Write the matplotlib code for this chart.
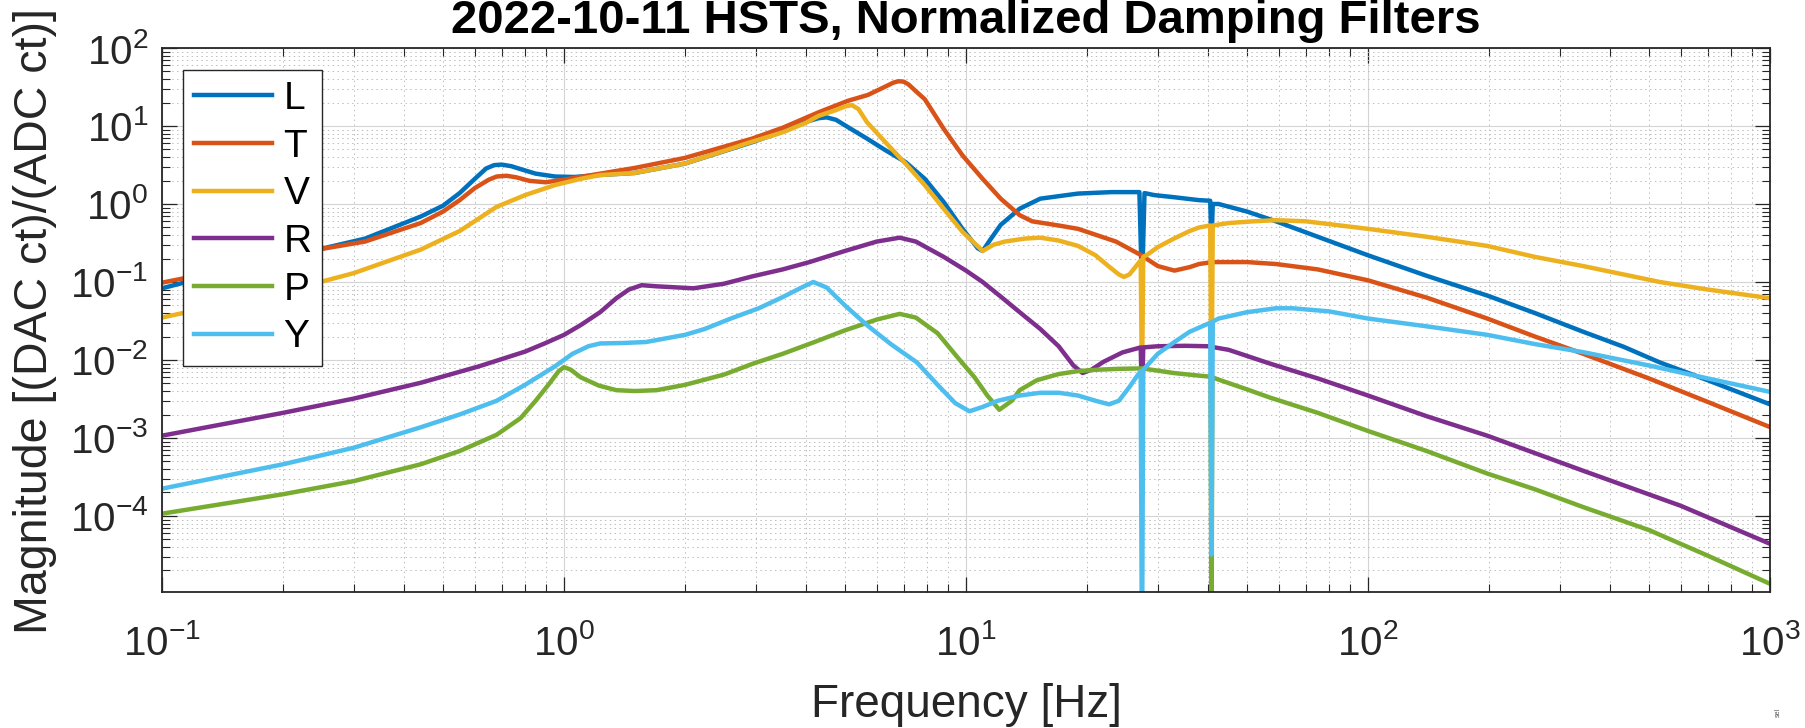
import numpy as np
import matplotlib
matplotlib.use("Agg")
import matplotlib.pyplot as plt
from matplotlib.ticker import LogLocator, NullFormatter

plt.rcParams['font.family'] = ['Liberation Sans', 'DejaVu Sans']
plt.rcParams['mathtext.fontset'] = 'custom'
plt.rcParams['mathtext.rm'] = 'Liberation Sans'
plt.rcParams['mathtext.it'] = 'Liberation Sans:italic'
plt.rcParams['mathtext.bf'] = 'Liberation Sans:bold'
plt.rcParams['axes.unicode_minus'] = False

# ---- damping filter magnitudes (frequency in Hz, magnitude in DAC ct / ADC ct) ----
freq_L = [0.1, 0.148, 0.244, 0.32, 0.44, 0.5, 0.55, 0.6, 0.64, 0.67, 0.7, 0.74, 0.78, 0.85, 0.95, 1.06, 1.22,
          1.5, 2.0, 2.94, 3.5, 4.0, 4.3, 4.5, 4.75, 5.08, 5.67, 6.3, 7.07, 7.9, 8.8, 9.8, 10.7, 11.0,
          11.5, 12.2, 13.6, 15.3, 19.0, 23.0, 27.0, 27.4, 27.8, 29.4, 33.0, 38.0, 40.5, 40.8, 41.1,
          42.5, 50.0, 59.0, 75.0, 100.0, 140.0, 198.0, 260.0, 343.0, 432.0, 532.0, 700.0, 1000.0]
mag_L = [0.083, 0.14, 0.26, 0.36, 0.69, 0.95, 1.38, 2.1, 2.85, 3.15, 3.2, 3.05, 2.8, 2.45, 2.25, 2.22, 2.35,
         2.5, 3.3, 6.2, 8.5, 11.3, 12.6, 12.9, 12.0, 9.7, 6.9, 4.9, 3.45, 2.1, 1.06, 0.48, 0.27, 0.25,
         0.35, 0.54, 0.87, 1.17, 1.36, 1.42, 1.42, 0.08, 1.38, 1.3, 1.22, 1.12, 1.1, 0.3, 1.0,
         1.0, 0.8, 0.6, 0.38, 0.22, 0.12, 0.067, 0.04, 0.023, 0.0148, 0.0093, 0.0055, 0.0027]

freq_T = [0.1, 0.148, 0.244, 0.32, 0.44, 0.5, 0.55, 0.6, 0.65, 0.68, 0.72, 0.76, 0.82, 0.9, 1.0, 1.23,
          1.5, 2.0, 2.94, 3.5, 4.3, 5.08, 5.7, 6.3, 6.6, 6.8, 7.0, 7.2, 7.5, 7.9, 8.8, 9.8, 11.0, 12.2,
          13.6, 14.6, 17.0, 19.0, 23.6, 27.3, 30.0, 33.0, 36.0, 38.0, 41.0, 50.0, 59.0, 75.0,
          100.0, 140.0, 198.0, 260.0, 343.0, 500.0, 700.0, 1000.0]
mag_T = [0.098, 0.147, 0.26, 0.33, 0.57, 0.8, 1.12, 1.6, 2.05, 2.25, 2.3, 2.2, 1.98, 1.9, 2.05, 2.45,
         2.9, 3.9, 6.9, 9.5, 15.0, 21.0, 25.0, 32.0, 36.0, 37.5, 37.0, 34.0, 28.0, 22.0, 9.2, 4.2, 2.1, 1.17,
         0.72, 0.6, 0.53, 0.48, 0.33, 0.22, 0.16, 0.14, 0.155, 0.17, 0.18, 0.18, 0.17, 0.145,
         0.105, 0.063, 0.034, 0.02, 0.012, 0.0058, 0.0029, 0.00138]

freq_V = [0.1, 0.15, 0.244, 0.3, 0.44, 0.55, 0.68, 0.8, 0.95, 1.1, 1.23, 1.5, 2.0, 2.94, 3.5,
          4.0, 4.3, 4.75, 5.0, 5.2, 5.4, 5.67, 6.3, 7.07, 7.9, 8.8, 9.8, 11.0, 11.7, 12.5, 14.0, 15.3,
          17.0, 19.0, 21.0, 22.6, 24.0, 24.7, 25.5, 26.5, 27.2, 27.4, 27.6, 28.1, 30.0, 32.9,
          36.0, 38.0, 40.5, 40.8, 41.1, 45.0, 52.0, 59.0, 70.0, 100.0, 140.0, 198.0, 260.0,
          343.0, 532.0, 700.0, 1000.0]
mag_V = [0.035, 0.055, 0.098, 0.13, 0.26, 0.45, 0.92, 1.3, 1.75, 2.1, 2.35, 2.5, 3.3, 6.3, 8.3,
         11.0, 13.5, 16.0, 17.8, 18.5, 16.5, 11.2, 6.2, 3.3, 1.74, 0.87, 0.44, 0.25, 0.3, 0.33, 0.36, 0.37,
         0.34, 0.29, 0.22, 0.16, 0.125, 0.116, 0.125, 0.16, 0.19, 0.004, 0.21, 0.22, 0.28, 0.36,
         0.45, 0.5, 0.53, 0.002, 0.53, 0.57, 0.6, 0.62, 0.6, 0.48, 0.38, 0.29, 0.21,
         0.16, 0.1, 0.08, 0.062]

freq_R = [0.1, 0.2, 0.3, 0.44, 0.615, 0.8, 0.9, 1.0, 1.1, 1.23, 1.35, 1.45, 1.56, 1.7, 2.1, 2.5,
          2.94, 3.5, 4.08, 5.0, 6.0, 6.84, 7.5, 8.8, 10.0, 11.0, 12.2, 13.6, 15.3, 17.0, 18.5,
          19.5, 20.5, 22.0, 24.5, 27.2, 27.4, 27.6, 30.0, 35.0, 40.0, 45.0, 57.0, 75.0, 100.0,
          140.0, 198.0, 343.0, 600.0, 1000.0]
mag_R = [0.00107, 0.0021, 0.0032, 0.0051, 0.0083, 0.0128, 0.0165, 0.021, 0.028, 0.041, 0.062, 0.08, 0.091, 0.088, 0.083, 0.095,
         0.118, 0.145, 0.18, 0.25, 0.33, 0.37, 0.33, 0.21, 0.14, 0.1, 0.065, 0.041, 0.025, 0.015, 0.0085,
         0.0068, 0.0075, 0.0095, 0.0125, 0.0145, 0.003, 0.0145, 0.015, 0.0152, 0.015, 0.0135, 0.009, 0.0058, 0.0035,
         0.0019, 0.00107, 0.00038, 0.000135, 0.000044]

freq_P = [0.1, 0.2, 0.3, 0.44, 0.55, 0.68, 0.78, 0.85, 0.92, 0.97, 1.0, 1.04, 1.1, 1.22, 1.35,
          1.5, 1.7, 2.0, 2.5, 2.94, 3.5, 4.2, 5.0, 6.0, 6.84, 7.5, 8.5, 9.5, 10.5, 11.3, 12.1,
          13.0, 13.6, 15.0, 17.0, 19.0, 21.2, 24.0, 27.4, 30.0, 32.9, 38.0, 40.6, 40.8, 41.0,
          42.5, 50.0, 57.0, 75.0, 100.0, 140.0, 198.0, 260.0, 343.0, 500.0, 700.0, 1000.0]
mag_P = [0.000107, 0.00019, 0.00028, 0.00046, 0.00068, 0.0011, 0.0018, 0.003, 0.005, 0.0072, 0.0081, 0.0075, 0.006, 0.0047, 0.0041,
         0.004, 0.0041, 0.0048, 0.0065, 0.0089, 0.012, 0.017, 0.024, 0.033, 0.039, 0.035, 0.022, 0.011, 0.006, 0.0035, 0.0023,
         0.003, 0.0041, 0.0055, 0.0066, 0.0072, 0.0075, 0.0077, 0.0078, 0.0073, 0.0068, 0.0063, 0.0061, 1e-6, 0.006,
         0.0056, 0.0042, 0.0033, 0.0021, 0.00123, 0.00068, 0.00035, 0.00022, 0.00013, 0.000066, 0.000031, 0.0000135]

freq_Y = [0.1, 0.2, 0.3, 0.44, 0.55, 0.68, 0.8, 0.95, 1.05, 1.15, 1.23, 1.4, 1.6, 2.0, 2.24,
          2.6, 3.05, 3.5, 3.9, 4.17, 4.5, 5.0, 5.67, 6.5, 7.55, 8.5, 9.4, 10.2, 11.0, 12.0,
          13.6, 15.3, 17.0, 19.0, 21.0, 22.7, 24.0, 25.5, 26.5, 27.2, 27.4, 27.6, 30.0, 33.0,
          36.0, 40.5, 40.8, 41.1, 42.5, 50.0, 59.0, 65.0, 80.0, 100.0, 140.0, 198.0, 260.0,
          343.0, 500.0, 700.0, 1000.0]
mag_Y = [0.000224, 0.00046, 0.00075, 0.00137, 0.002, 0.003, 0.0048, 0.0083, 0.012, 0.015, 0.0163, 0.0165, 0.017, 0.021, 0.025,
         0.034, 0.046, 0.064, 0.085, 0.1, 0.085, 0.05, 0.028, 0.016, 0.0093, 0.0048, 0.0028, 0.0022, 0.0025, 0.003,
         0.0035, 0.0038, 0.0038, 0.0035, 0.003, 0.0027, 0.003, 0.0045, 0.006, 0.0072, 1e-6, 0.0075, 0.012, 0.017,
         0.023, 0.03, 0.000032, 0.031, 0.034, 0.041, 0.046, 0.046, 0.042, 0.034, 0.027, 0.021, 0.016,
         0.0126, 0.0085, 0.0058, 0.0039]

labels = ['L', 'T', 'V', 'R', 'P', 'Y']
colors = ['#0072BD', '#D95319', '#EDB120', '#7E2F8E', '#77AC30', '#4DBEEE']
series = [(freq_L, mag_L), (freq_T, mag_T), (freq_V, mag_V),
          (freq_R, mag_R), (freq_P, mag_P), (freq_Y, mag_Y)]

W, H = 1806, 728
fig = plt.figure(figsize=(W / 100, H / 100), dpi=100)
ax = fig.add_axes([162 / W, 1 - 592 / H, (1770 - 162) / W, (592 - 48) / H])

for (f, m), lab, c in zip(series, labels, colors):
    ax.loglog(f, m, color=c, lw=3.2, label=lab, solid_joinstyle='round')

ax.set_xlim(0.1, 1000)
ax.set_ylim(1.06e-5, 100)

ax.xaxis.set_major_locator(LogLocator(base=10, numticks=20))
ax.yaxis.set_major_locator(LogLocator(base=10, numticks=20))
ax.xaxis.set_minor_locator(LogLocator(base=10, subs=np.arange(2, 10), numticks=100))
ax.yaxis.set_minor_locator(LogLocator(base=10, subs=np.arange(2, 10), numticks=100))
ax.xaxis.set_minor_formatter(NullFormatter())
ax.yaxis.set_minor_formatter(NullFormatter())

ax.grid(True, which='major', color='#d4d4d4', lw=0.8, ls='-')
ax.grid(True, which='minor', color='#bdbdbd', lw=0.7, ls=(0, (1.5, 3.5)))
ax.set_axisbelow(True)

ax.tick_params(which='both', direction='in', top=True, right=True, colors='#262626',
               labelcolor='#262626')
ax.tick_params(which='major', length=11, width=0.9, labelsize=29)
ax.tick_params(axis='x', which='major', pad=23)
ax.tick_params(axis='y', which='major', pad=10)
ax.tick_params(which='minor', length=5.5, width=0.8)
for s in ax.spines.values():
    s.set_color('#262626')
    s.set_linewidth(1.3)

leg = ax.legend(loc='upper left', bbox_to_anchor=(21 / 1608, 1 - 22 / 544), borderaxespad=0,
                fontsize=28, handlelength=2.0, handletextpad=0.3, borderpad=0.28,
                labelspacing=0.30, fancybox=False, framealpha=1, edgecolor='#262626')
leg.get_frame().set_linewidth(1.0)

fig.text(966 / W, 1 - 33 / H, '2022-10-11 HSTS, Normalized Damping Filters',
         ha='center', va='baseline', fontsize=34, fontweight='bold', color='black')
fig.text(966 / W, 1 - 717 / H, 'Frequency [Hz]', ha='center', va='baseline',
         fontsize=33, color='#262626')
fig.text(35 / W, 1 - 321 / H, 'Magnitude [(DAC ct)/(ADC ct)]', ha='center', va='center',
         rotation=90, fontsize=33.5, color='#262626')
fig.text(1778 / W, 1 - 712 / H, 'sel', ha='center', va='center', rotation=90,
         fontsize=5, color='#555555')

fig.savefig('out.png', dpi=100)
